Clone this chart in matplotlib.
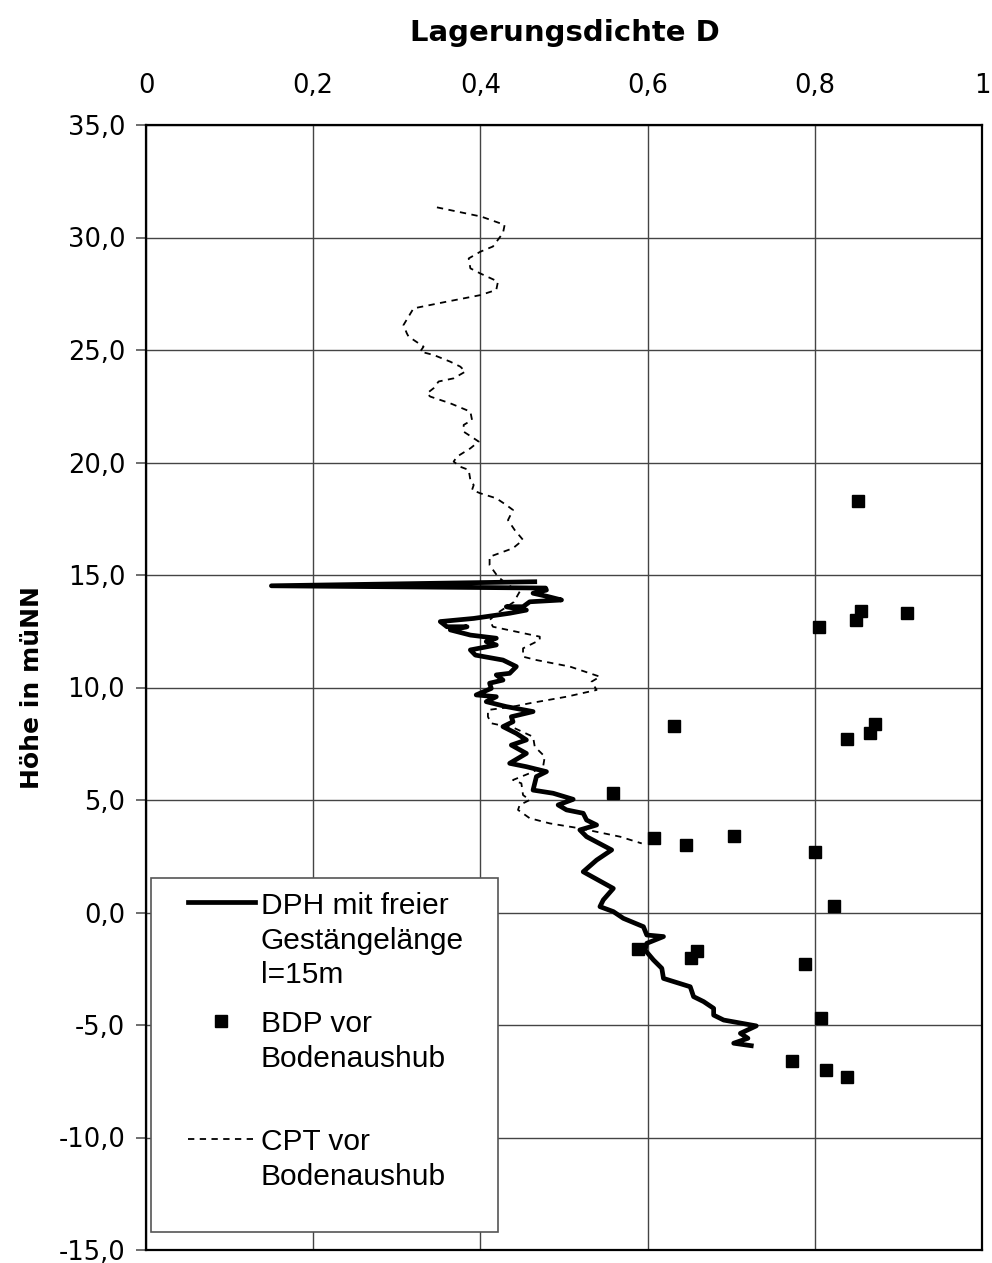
import numpy as np
import matplotlib
matplotlib.use("Agg")
import matplotlib.pyplot as plt
from matplotlib.patches import Rectangle

plt.rcParams['font.family'] = ['DejaVu Sans']

# DPH sounding, free rod length 15 m: relative density vs. elevation
dph_d = [0.465, 0.150, 0.478, 0.479, 0.463, 0.481, 0.497, 0.459, 0.451, 0.431,
         0.455, 0.435, 0.392, 0.352, 0.360, 0.384, 0.364, 0.388, 0.419, 0.407,
         0.419, 0.388, 0.394, 0.427, 0.443, 0.435, 0.419, 0.427, 0.411, 0.413,
         0.395, 0.419, 0.407, 0.431, 0.463, 0.437, 0.439, 0.427, 0.443, 0.455,
         0.437, 0.455, 0.435, 0.455, 0.479, 0.467, 0.463, 0.487, 0.511, 0.493,
         0.503, 0.523, 0.527, 0.539, 0.519, 0.527, 0.557, 0.539, 0.523, 0.541,
         0.559, 0.547, 0.543, 0.559, 0.571, 0.595, 0.599, 0.619, 0.599, 0.597,
         0.607, 0.617, 0.619, 0.651, 0.655, 0.667, 0.679, 0.679, 0.691, 0.730,
         0.711, 0.720, 0.703, 0.724]
dph_h = [14.70, 14.52, 14.42, 14.33, 14.19, 14.04, 13.89, 13.81, 13.59, 13.59,
         13.44, 13.30, 13.07, 12.93, 12.70, 12.70, 12.56, 12.33, 12.19, 12.04,
         11.89, 11.67, 11.44, 11.22, 10.93, 10.63, 10.56, 10.33, 10.19, 9.96,
         9.67, 9.59, 9.37, 9.15, 8.93, 8.70, 8.48, 8.26, 7.96, 7.67,
         7.44, 7.07, 6.63, 6.48, 6.26, 6.04, 5.44, 5.30, 5.03, 4.78,
         4.56, 4.41, 4.11, 3.89, 3.67, 3.37, 2.78, 2.33, 1.81, 1.44,
         1.07, 0.56, 0.26, 0.04, -0.26, -0.63, -1.00, -1.07, -1.37, -1.67,
         -2.11, -2.48, -2.93, -3.30, -3.74, -3.96, -4.26, -4.56, -4.78, -5.04,
         -5.37, -5.59, -5.81, -5.92]

# BDP before excavation
bdp_d = [0.852, 0.855, 0.849, 0.910, 0.805, 0.631, 0.872, 0.866, 0.838, 0.559,
         0.608, 0.646, 0.703, 0.800, 0.823, 0.589, 0.659, 0.652, 0.788, 0.807,
         0.773, 0.813, 0.838]
bdp_h = [18.3, 13.4, 13.0, 13.3, 12.7, 8.3, 8.4, 8.0, 7.7, 5.3,
         3.3, 3.0, 3.4, 2.7, 0.3, -1.6, -1.7, -2.0, -2.3, -4.7,
         -6.6, -7.0, -7.3]

# CPT before excavation
cpt_d = [0.348, 0.401, 0.429, 0.427, 0.415, 0.400, 0.386, 0.388, 0.400, 0.421,
         0.419, 0.400, 0.360, 0.320, 0.314, 0.308, 0.312, 0.314, 0.326, 0.332,
         0.328, 0.344, 0.364, 0.376, 0.382, 0.368, 0.350, 0.344, 0.336, 0.340,
         0.364, 0.388, 0.390, 0.380, 0.380, 0.398, 0.388, 0.372, 0.368, 0.376,
         0.386, 0.388, 0.392, 0.390, 0.400, 0.419, 0.431, 0.439, 0.433, 0.441,
         0.451, 0.439, 0.411, 0.411, 0.421, 0.433, 0.447, 0.440, 0.420, 0.411,
         0.415, 0.471, 0.471, 0.451, 0.451, 0.467, 0.507, 0.543, 0.533, 0.539,
         0.503, 0.459, 0.439, 0.409, 0.409, 0.413, 0.441, 0.463, 0.465, 0.477,
         0.475, 0.459, 0.439, 0.449, 0.451, 0.459, 0.447, 0.445, 0.459, 0.483,
         0.519, 0.567, 0.593]
cpt_h = [31.34, 30.93, 30.56, 30.20, 29.60, 29.37, 29.07, 28.63, 28.40, 28.04,
         27.67, 27.44, 27.15, 26.85, 26.48, 26.11, 25.74, 25.60, 25.30, 25.15,
         24.93, 24.78, 24.48, 24.26, 24.04, 23.74, 23.60, 23.30, 23.07, 22.93,
         22.63, 22.26, 21.89, 21.67, 21.37, 20.93, 20.63, 20.26, 20.04, 19.81,
         19.67, 19.22, 19.00, 18.78, 18.63, 18.41, 18.11, 17.89, 17.44, 17.00,
         16.56, 16.19, 15.81, 15.44, 14.92, 14.56, 14.26, 13.80, 13.30, 13.00,
         12.70, 12.26, 12.11, 11.74, 11.37, 11.22, 10.93, 10.48, 10.26, 9.89,
         9.59, 9.30, 9.15, 9.00, 8.70, 8.41, 8.19, 7.81, 7.37, 6.93,
         6.48, 6.19, 5.89, 5.74, 5.22, 5.00, 4.78, 4.56, 4.19, 3.96,
         3.74, 3.37, 3.07]

x_ticks = [0, 0.2, 0.4, 0.6, 0.8, 1.0]
x_tick_labels = ['0', '0,2', '0,4', '0,6', '0,8', '1']
y_ticks = [35, 30, 25, 20, 15, 10, 5, 0, -5, -10, -15]
y_tick_labels = ['35,0', '30,0', '25,0', '20,0', '15,0', '10,0', '5,0',
                 '0,0', '-5,0', '-10,0', '-15,0']

fig = plt.figure(figsize=(9.92, 12.63), dpi=100)
ax = fig.add_axes([146 / 992, 1 - 1250 / 1263, 836 / 992, 1125 / 1263])

ax.plot(dph_d, dph_h, color='black', lw=3.4, solid_joinstyle='round',
        label='DPH mit freier\nGestängelänge\nl=15m', zorder=4)
ax.plot(bdp_d, bdp_h, ls='none', marker='s', ms=8.6, color='black',
        label='BDP vor\nBodenaushub\n', zorder=5)
ax.plot(cpt_d, cpt_h, color='black', lw=1.3, ls=(0, (3.5, 3)),
        label='CPT vor\nBodenaushub\n', zorder=3)

ax.set_xlim(0, 1)
ax.set_ylim(-15, 35)
ax.set_xticks(x_ticks)
ax.set_xticklabels(x_tick_labels)
ax.set_yticks(y_ticks)
ax.set_yticklabels(y_tick_labels)
ax.xaxis.tick_top()
ax.xaxis.set_label_position('top')
ax.tick_params(axis='x', length=0, pad=18.5, labelsize=18.5)
ax.tick_params(axis='y', length=7, width=1.2, color='#555555', pad=8, labelsize=18.5)
ax.grid(True, color='#444444', lw=1.0)
ax.set_axisbelow(True)
for s in ax.spines.values():
    s.set_linewidth(1.6)
    s.set_color('black')

ax.set_xlabel('Lagerungsdichte D', fontsize=21, fontweight='bold')
ax.xaxis.set_label_coords(0.501, 1.075)
ax.set_ylabel('Höhe in müNN', fontsize=18, fontweight='bold')
ax.yaxis.set_label_coords(-0.122, 0.5)

# legend frame drawn separately, entries placed inside
frame = Rectangle((151 / 992, 1 - 1232 / 1263), 347 / 992, 354 / 1263,
                  transform=fig.transFigure, facecolor='white',
                  edgecolor='#555555', lw=1.2, zorder=6, clip_on=False)
ax.add_patch(frame)
leg = ax.legend(loc='upper left', bbox_to_anchor=(188 / 992, 1 - 892 / 1263),
                bbox_transform=fig.transFigure, frameon=False,
                prop={'family': 'Liberation Sans', 'size': 21.5},
                borderpad=0, borderaxespad=0, handlelength=2.24,
                handletextpad=0.2, labelspacing=0.7)
leg.set_zorder(7)
for t in leg.get_texts():
    t.set_linespacing(1.3)
for col in leg._legend_handle_box.get_children():
    for row in col.get_children():
        row.align = 'top'

fig.savefig('out.png', dpi=100)
